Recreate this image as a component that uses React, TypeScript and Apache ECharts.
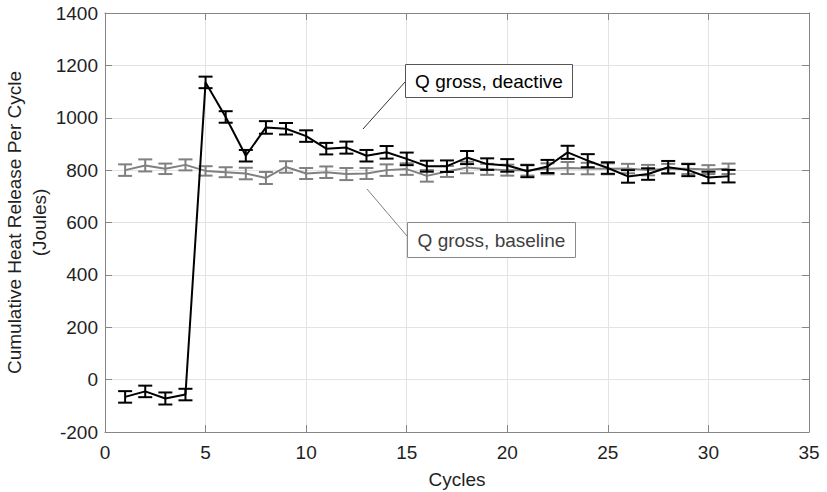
import React, { useEffect, useRef } from "react";
import * as echarts from "echarts";

const cycles = [1, 2, 3, 4, 5, 6, 7, 8, 9, 10, 11, 12, 13, 14, 15, 16, 17, 18, 19, 20, 21, 22, 23, 24, 25, 26, 27, 28, 29, 30, 31];
const deactive = [-66, -45, -72, -57, 1135, 1003, 855, 963, 958, 930, 882, 886, 855, 868, 843, 815, 815, 848, 823, 818, 796, 814, 868, 836, 808, 776, 785, 811, 800, 772, 777];
const deactiveErr = [22, 22, 23, 22, 22, 22, 22, 24, 22, 22, 22, 23, 22, 24, 24, 21, 22, 25, 22, 24, 23, 25, 25, 25, 22, 24, 22, 24, 23, 22, 24];
const baseline = [800, 818, 805, 820, 797, 792, 787, 770, 812, 787, 792, 785, 787, 800, 804, 778, 795, 810, 803, 800, 800, 805, 808, 806, 805, 806, 800, 806, 805, 802, 805];
const baselineErr = [22, 23, 20, 21, 18, 19, 22, 23, 22, 21, 22, 23, 21, 22, 22, 22, 21, 22, 21, 21, 21, 21, 23, 22, 21, 18, 20, 18, 20, 17, 20];
const yTicks = { min: -200, max: 1400, interval: 200 };
const xTicks = { min: 0, max: 35, interval: 5 };

const FONT = "'Liberation Sans', Arial, sans-serif";
const BLACK = "#000000";
const GRAY = "#808080";

function errData(vals: number[], errs: number[]) {
  return cycles.map((c, i) => [c, vals[i] - errs[i], vals[i] + errs[i]]);
}

function makeErrRender(color: string) {
  return (params: any, api: any) => {
    const x = api.value(0);
    const lo = api.coord([x, api.value(1)]);
    const hi = api.coord([x, api.value(2)]);
    const w = 7;
    const st = { stroke: color, lineWidth: 2 };
    return {
      type: "group",
      children: [
        { type: "line", shape: { x1: lo[0], y1: lo[1], x2: hi[0], y2: hi[1] }, style: st },
        { type: "line", shape: { x1: lo[0] - w, y1: lo[1], x2: lo[0] + w, y2: lo[1] }, style: st },
        { type: "line", shape: { x1: hi[0] - w, y1: hi[1], x2: hi[0] + w, y2: hi[1] }, style: st },
      ],
    };
  };
}

export default function App() {
  const ref = useRef<HTMLDivElement>(null);
  useEffect(() => {
    const chart = echarts.init(ref.current!, null, { renderer: "svg" });
    const axisLine = { show: true, onZero: false, lineStyle: { color: "#868686", width: 1 } };
    const tick = { show: true, inside: true, length: 7, lineStyle: { color: "#868686" } };
    const label = { color: "#1f1f1f", fontSize: 19, fontFamily: FONT, formatter: (v: number) => String(v) };
    chart.setOption({
      animation: false,
      backgroundColor: "#ffffff",
      grid: { left: 105, right: 18, top: 13, bottom: 60, containLabel: false, outerBoundsMode: "none" },
      xAxis: [
        {
          type: "value",
          ...xTicks,
          name: "Cycles",
          nameLocation: "middle",
          nameGap: 38,
          nameTextStyle: { color: "#1f1f1f", fontSize: 19, fontFamily: FONT },
          axisLine,
          axisTick: tick,
          axisLabel: { ...label, margin: 11 },
          splitLine: { show: true, lineStyle: { color: "#e3e3e3", width: 1 } },
        },
        {
          type: "value",
          ...xTicks,
          position: "top",
          axisLine,
          axisTick: tick,
          axisLabel: { show: false },
          splitLine: { show: false },
        },
      ],
      yAxis: [
        {
          type: "value",
          ...yTicks,
          name: "Cumulative Heat Release Per Cycle\n(Joules)",
          nameLocation: "middle",
          nameGap: 53,
          nameMoveOverlap: false,
          nameRotate: 90,
          nameTextStyle: { color: "#1f1f1f", fontSize: 19, fontFamily: FONT, lineHeight: 25 },
          axisLine,
          axisTick: tick,
          axisLabel: { ...label, margin: 7 },
          splitLine: { show: true, lineStyle: { color: "#e3e3e3", width: 1 } },
        },
        {
          type: "value",
          ...yTicks,
          position: "right",
          axisLine,
          axisTick: tick,
          axisLabel: { show: false },
          splitLine: { show: false },
        },
      ],
      series: [
        {
          name: "Q gross, baseline",
          type: "line",
          data: cycles.map((c, i) => [c, baseline[i]]),
          showSymbol: false,
          symbol: "none",
          lineStyle: { color: GRAY, width: 2 },
          z: 2,
        },
        {
          type: "custom",
          data: errData(baseline, baselineErr),
          renderItem: makeErrRender(GRAY),
          encode: { x: 0, y: [1, 2] },
          z: 2,
        },
        {
          name: "Q gross, deactive",
          type: "line",
          data: cycles.map((c, i) => [c, deactive[i]]),
          showSymbol: false,
          symbol: "none",
          lineStyle: { color: BLACK, width: 2 },
          z: 3,
        },
        {
          type: "custom",
          data: errData(deactive, deactiveErr),
          renderItem: makeErrRender(BLACK),
          encode: { x: 0, y: [1, 2] },
          z: 3,
        },
      ],
      graphic: [
        {
          type: "line",
          shape: { x1: 363, y1: 129, x2: 405, y2: 82 },
          style: { stroke: "#333333", lineWidth: 1 },
          z: 10,
        },
        {
          type: "rect",
          shape: { x: 405.5, y: 64.5, width: 167, height: 33 },
          style: { fill: "#ffffff", stroke: "#555555", lineWidth: 1 },
          z: 10,
        },
        {
          type: "text",
          x: 489,
          y: 81,
          style: { text: "Q gross, deactive", fill: "#000000", fontSize: 19, fontFamily: FONT, align: "center", verticalAlign: "middle" },
          z: 11,
        },
        {
          type: "line",
          shape: { x1: 367, y1: 189, x2: 407, y2: 236 },
          style: { stroke: "#808080", lineWidth: 1 },
          z: 10,
        },
        {
          type: "rect",
          shape: { x: 407.5, y: 222.5, width: 168, height: 35 },
          style: { fill: "#ffffff", stroke: "#8a8a8a", lineWidth: 1 },
          z: 10,
        },
        {
          type: "text",
          x: 491.5,
          y: 240,
          style: { text: "Q gross, baseline", fill: "#404040", fontSize: 19, fontFamily: FONT, align: "center", verticalAlign: "middle" },
          z: 11,
        },
      ],
    });
    return () => chart.dispose();
  }, []);
  return <div ref={ref} style={{ width: 827, height: 492, position: "absolute", left: 0, top: 0 }} />;
}
